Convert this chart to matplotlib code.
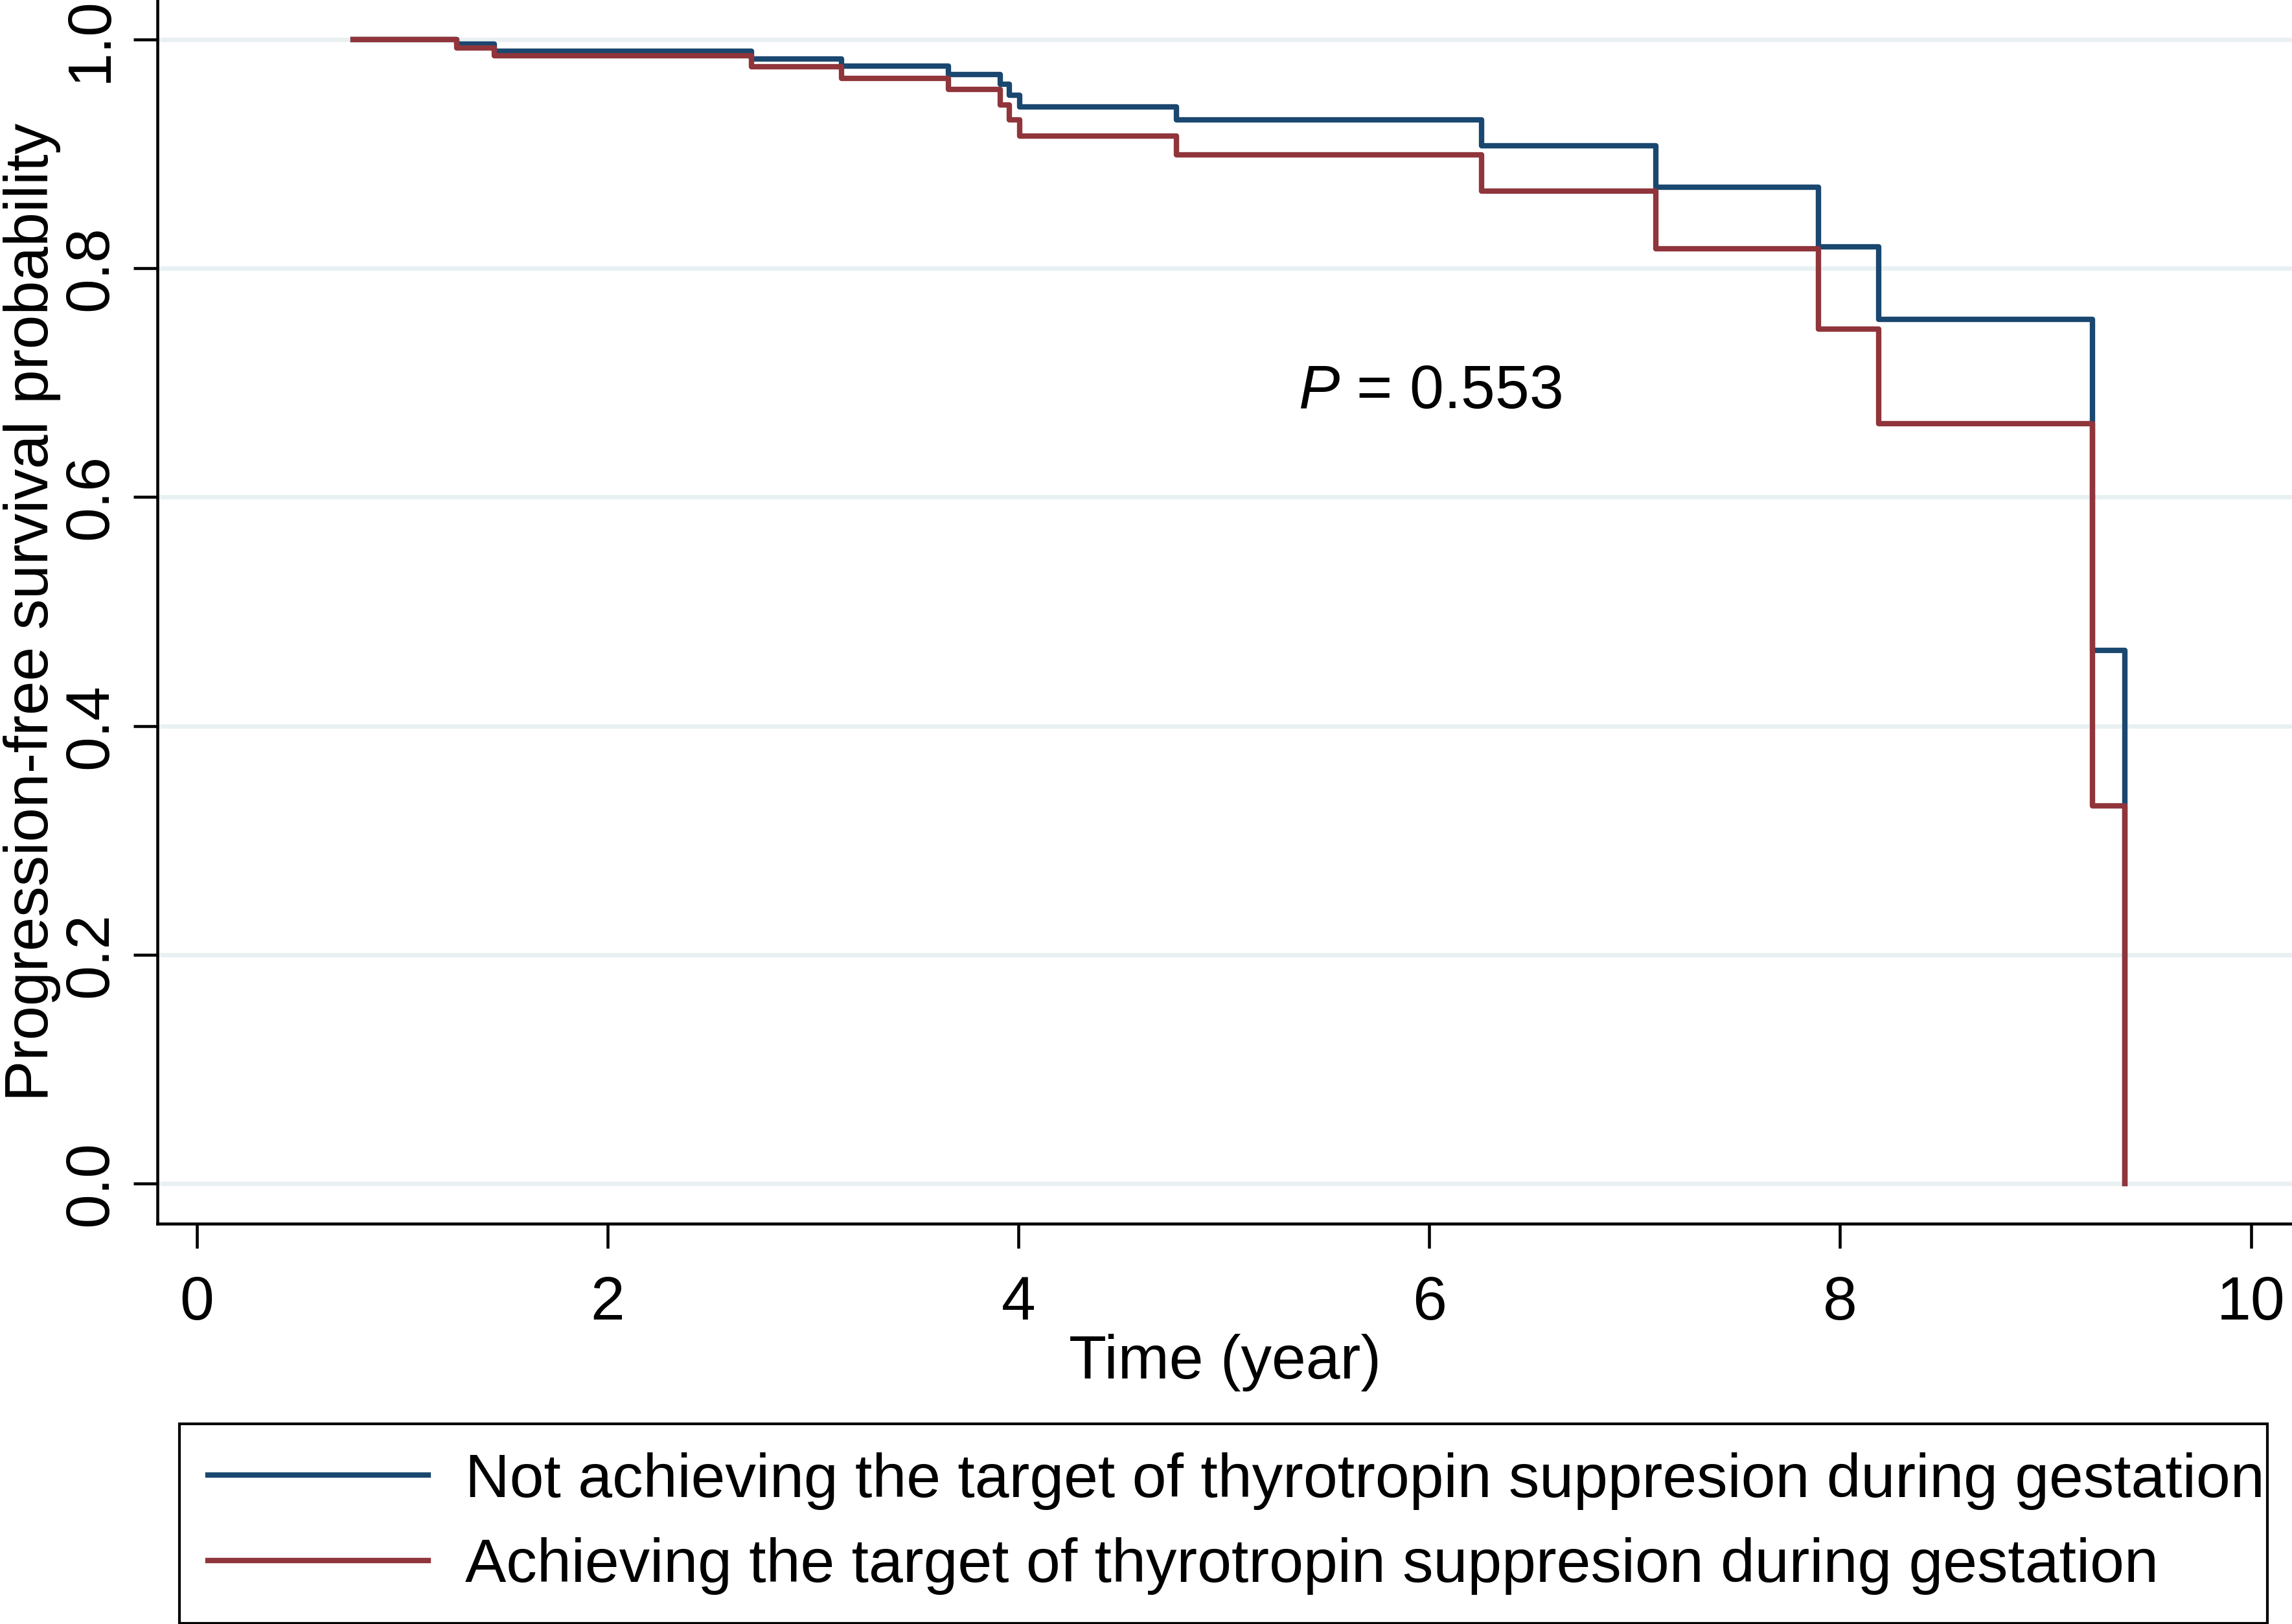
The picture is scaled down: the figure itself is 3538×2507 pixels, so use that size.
import matplotlib
matplotlib.use("Agg")
import matplotlib.pyplot as plt

plt.rcParams['font.family'] = ['Liberation Sans', 'DejaVu Sans']
plt.rcParams['mathtext.fontset'] = 'custom'
plt.rcParams['mathtext.rm'] = 'Liberation Sans'
plt.rcParams['mathtext.it'] = 'Liberation Sans:italic'

# Kaplan-Meier estimates (time in years)
time_not = [0.76, 1.266, 1.45, 2.70, 3.14, 3.66, 3.91, 3.957, 4.005,
            4.768, 6.255, 7.103, 7.894, 8.187, 9.230, 9.387]
surv_not = [1.0, 0.9958, 0.9898, 0.9831, 0.9765, 0.9694, 0.9609, 0.9511, 0.9411,
            0.9298, 0.907, 0.871, 0.8186, 0.7552, 0.4663, 0.0]

time_ach = [0.76, 1.266, 1.45, 2.70, 3.14, 3.66, 3.91, 3.957, 4.005,
            4.768, 6.255, 7.103, 7.894, 8.187, 9.230, 9.387]
surv_ach = [1.0, 0.9926, 0.9858, 0.976, 0.9662, 0.9562, 0.9426, 0.9297, 0.9156,
            0.8993, 0.8677, 0.8173, 0.747, 0.6642, 0.330, 0.0]

labels = ['Not achieving the target of thyrotropin suppresion during gestation',
          'Achieving the target of thyrotropin suppresion during gestation']
colors = ['#1a476f', '#90353b']
x_ticks = [0, 2, 4, 6, 8, 10]
y_ticks = [0.0, 0.2, 0.4, 0.6, 0.8, 1.0]
p_text = r'$P$ = 0.553'

fs = 22.8
lw = 2.0

fig = plt.figure(figsize=(3538 / 300, 2507 / 300), dpi=300)
ax = fig.add_axes([0.06877, 0.2465, 0.93123, 0.7535])

for y in y_ticks:
    ax.axhline(y, color='#e8f0f2', lw=1.6, zorder=0)

l1, = ax.plot(time_not, surv_not, drawstyle='steps-post', color=colors[0], lw=lw, zorder=2)
l2, = ax.plot(time_ach, surv_ach, drawstyle='steps-post', color=colors[1], lw=lw, zorder=3)

ax.set_xlim(-0.1905, 10.2)
ax.set_ylim(-0.0351, 1.0345)
ax.set_xticks(x_ticks)
ax.set_yticks(y_ticks)
ax.set_yticklabels([f'{v:.1f}' for v in y_ticks])

for side in ['top', 'right']:
    ax.spines[side].set_visible(False)
for side in ['left', 'bottom']:
    ax.spines[side].set_linewidth(1.1)

ax.tick_params(axis='x', length=9, width=1.1, pad=10, labelsize=fs)
ax.tick_params(axis='y', length=9, width=1.1, pad=5, labelsize=fs, labelrotation=90)
plt.setp(ax.get_yticklabels(), va='center')

ax.set_xlabel('Time (year)', fontsize=fs)
ax.set_ylabel('Progression-free survival probability', fontsize=fs)
ax.xaxis.set_label_coords(0.5, -0.090)
ax.yaxis.set_label_coords(-0.0453, 0.5)

ax.text(5.362, 0.678, p_text, fontsize=fs, va='baseline', ha='left')

leg = fig.legend([l1, l2], labels, loc='upper left',
                 bbox_to_anchor=(0.0783, 0.0, 0.911, 0.1233), mode='expand',
                 borderaxespad=0, fontsize=fs, handlelength=3.58, handletextpad=0.6,
                 borderpad=0.46, labelspacing=0.45, fancybox=False,
                 edgecolor='black', framealpha=1)
leg.get_frame().set_linewidth(1.0)
for line in leg.get_lines():
    line.set_linewidth(lw)

fig.savefig('out.png', dpi=300)
